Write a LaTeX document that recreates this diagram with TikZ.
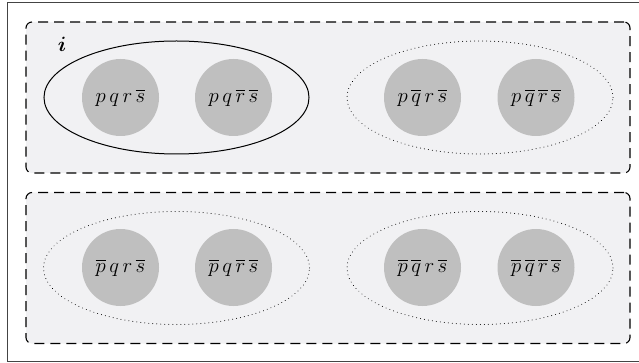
\documentclass[tikz,border=0pt]{standalone}
\usepackage{amsmath}
\usepackage{bm}
\usetikzlibrary{shapes.geometric}
\definecolor{panelfill}{HTML}{F1F1F3}
\definecolor{worldfill}{HTML}{BFBFBF}
\definecolor{framegray}{HTML}{444444}
\tikzset{
  panel/.style={draw=black, line width=1.1pt, dash pattern=on 10pt off 6pt,
    rounded corners=6pt, fill=panelfill, rectangle, minimum width=604pt,
    minimum height=151pt, inner sep=0pt},
  groupsolid/.style={draw=black, line width=1pt, ellipse, minimum width=265pt,
    minimum height=113pt, inner sep=0pt},
  groupdotted/.style={draw=black, line width=1pt, line cap=round,
    dash pattern=on 0.01pt off 4pt, ellipse, minimum width=266pt,
    minimum height=113pt, inner sep=0pt},
  world/.style={circle, fill=worldfill, minimum size=77pt, inner sep=0pt,
    font=\fontsize{21}{24}\selectfont},
}
\begin{document}
\begin{tikzpicture}[x=1pt, y=-1pt]
  \useasboundingbox (0,0) rectangle (639,363);
  % outer frame
  \draw[framegray, line width=1pt] (7,3) rectangle (660,361);

  % two panels
  \node[panel] (top) at (328,97.5) {};
  \node[panel] (bot) at (328,268) {};

  % groups of worlds
  \node[groupsolid]  (g1) at (176.5,97.5) {};
  \node[groupdotted] (g2) at (480,97.5) {};
  \node[groupdotted] (g3) at (176.5,268) {};
  \node[groupdotted] (g4) at (480,268) {};

  % agent label
  \node[font=\fontsize{20}{24}\selectfont] (lbl) at (62,44) {$\bm{i}$};

  % worlds
  \node[world] (w1) at (120.5,97.5) {$p\,q\,r\,\overline{s}$};
  \node[world] (w2) at (233.5,97.5) {$p\,q\,\overline{r}\,\overline{s}$};
  \node[world] (w3) at (422.5,97.5) {$p\,\overline{q}\,r\,\overline{s}$};
  \node[world] (w4) at (536,97.5) {$p\,\overline{q}\,\overline{r}\,\overline{s}$};
  \node[world] (w5) at (120.5,267.5) {$\overline{p}\,q\,r\,\overline{s}$};
  \node[world] (w6) at (233.5,267.5) {$\overline{p}\,q\,\overline{r}\,\overline{s}$};
  \node[world] (w7) at (422.5,267.5) {$\overline{p}\,\overline{q}\,r\,\overline{s}$};
  \node[world] (w8) at (536,267.5) {$\overline{p}\,\overline{q}\,\overline{r}\,\overline{s}$};
\end{tikzpicture}
\end{document}
